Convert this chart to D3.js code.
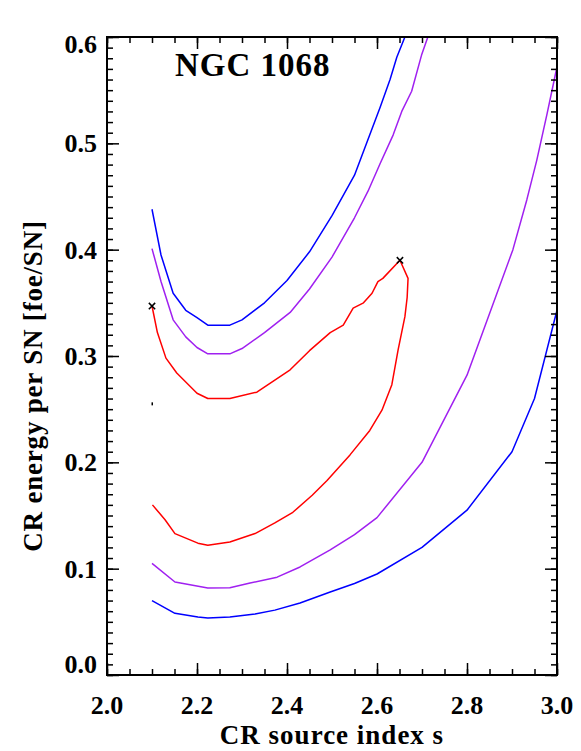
<!DOCTYPE html>
<html>
<head>
<meta charset="utf-8">
<script src="https://cdn.jsdelivr.net/npm/d3@7"></script>
<style>
  body { margin: 0; background: #fff; }
  text { font-family: "Liberation Serif", "DejaVu Serif", serif; font-weight: bold; fill: #000; }
</style>
</head>
<body>
<div id="chart"></div>
<script>
// contour data (s = CR source index, E = CR energy per SN)
const blueUpS  = [2.10, 2.12, 2.147, 2.175, 2.20, 2.224, 2.273, 2.30, 2.35, 2.40, 2.45, 2.50, 2.55, 2.607, 2.629, 2.644, 2.662, 2.67];
const blueUpE  = [0.438, 0.395, 0.359, 0.343, 0.336, 0.329, 0.329, 0.334, 0.35, 0.371, 0.398, 0.432, 0.47, 0.534, 0.56, 0.581, 0.60, 0.61];
const blueLoS  = [2.10, 2.151, 2.202, 2.224, 2.273, 2.329, 2.373, 2.429, 2.496, 2.55, 2.60, 2.70, 2.80, 2.90, 2.95, 3.00];
const blueLoE  = [0.0699, 0.058, 0.0545, 0.0536, 0.0545, 0.0574, 0.061, 0.0677, 0.078, 0.086, 0.095, 0.12, 0.155, 0.21, 0.26, 0.343];

const purpUpS  = [2.10, 2.12, 2.147, 2.175, 2.20, 2.224, 2.273, 2.30, 2.35, 2.407, 2.45, 2.50, 2.55, 2.58, 2.607, 2.636, 2.655, 2.677, 2.699, 2.713, 2.72];
const purpUpE  = [0.401, 0.37, 0.334, 0.318, 0.308, 0.302, 0.302, 0.307, 0.322, 0.341, 0.363, 0.393, 0.43, 0.455, 0.481, 0.508, 0.53, 0.549, 0.583, 0.60, 0.61];
const purpLoS  = [2.10, 2.151, 2.224, 2.273, 2.318, 2.378, 2.429, 2.496, 2.55, 2.60, 2.70, 2.80, 2.902, 2.933, 2.955, 2.978, 3.00];
const purpLoE  = [0.105, 0.0875, 0.0818, 0.082, 0.0865, 0.092, 0.1016, 0.1176, 0.132, 0.148, 0.2, 0.282, 0.40, 0.447, 0.484, 0.528, 0.572];

const redS = [2.10, 2.112, 2.131, 2.155, 2.20, 2.224, 2.273, 2.333, 2.407, 2.45, 2.496, 2.525, 2.547, 2.57, 2.589, 2.602, 2.613, 2.651,
              2.669, 2.667, 2.662, 2.647, 2.633, 2.611, 2.584, 2.54, 2.489, 2.456, 2.413, 2.373, 2.329, 2.273, 2.224, 2.202, 2.151, 2.129, 2.101];
const redE = [0.347, 0.322, 0.298, 0.284, 0.265, 0.260, 0.260, 0.266, 0.287, 0.305, 0.322, 0.329, 0.345, 0.35, 0.359, 0.370, 0.373, 0.390,
              0.373, 0.355, 0.337, 0.306, 0.273, 0.249, 0.23, 0.207, 0.183, 0.169, 0.153, 0.143, 0.133, 0.125, 0.122, 0.124, 0.133, 0.146, 0.16];

// best-fit / end markers
const crossS = [2.10, 2.651];
const crossE = [0.347, 0.390];
const dotS = [2.10];
const dotE = [0.255];

const xTicks = [2.0, 2.2, 2.4, 2.6, 2.8, 3.0];
const yTicks = [0.0, 0.1, 0.2, 0.3, 0.4, 0.5, 0.6];
const title = "NGC 1068";
const xLabel = "CR source index s";
const yLabel = "CR energy per SN [foe/SN]";

const W = 581, H = 751;
const margin = { top: 37, right: 24, bottom: 76, left: 107 };
const width = W - margin.left - margin.right,
  height = H - margin.top - margin.bottom;

const svg = d3.select("#chart").append("svg")
  .attr("width", W).attr("height", H);

const g = svg.append("g")
  .attr("transform", `translate(${margin.left},${margin.top})`);

const x = d3.scaleLinear().domain([2.0, 3.0]).range([0, width]);
const y = d3.scaleLinear().domain([0.0, 0.6]).range([height, 0]);

g.append("clipPath").attr("id", "clip")
  .append("rect").attr("width", width).attr("height", height);

// curves
const line = d3.line().x(d => x(d[0])).y(d => y(d[1]));
const curves = [
  [blueUpS, blueUpE, "#0000ff"],
  [blueLoS, blueLoE, "#0000ff"],
  [purpUpS, purpUpE, "#a020f0"],
  [purpLoS, purpLoE, "#a020f0"],
  [redS, redE, "#ff0000"]
];
const plot = g.append("g").attr("clip-path", "url(#clip)");
curves.forEach(c => {
  plot.append("path")
    .datum(c[0].map((s, i) => [s, c[1][i]]))
    .attr("fill", "none")
    .attr("stroke", c[2])
    .attr("stroke-width", 1.5)
    .attr("stroke-linejoin", "round")
    .attr("d", line);
});

// x markers
const sym = d3.symbol().type(d3.symbolX).size(28);
g.selectAll(".cross")
  .data(crossS.map((s, i) => [s, crossE[i]]))
  .enter().append("path")
  .attr("transform", d => `translate(${x(d[0])},${y(d[1])})`)
  .attr("d", sym)
  .attr("stroke", "#000").attr("stroke-width", 1.5).attr("fill", "none");

g.selectAll(".dot")
  .data(dotS.map((s, i) => [s, dotE[i]]))
  .enter().append("rect")
  .attr("x", d => x(d[0]) - 0.5).attr("y", d => y(d[1]) - 1.5)
  .attr("width", 1.5).attr("height", 3).attr("fill", "#000");

// axes: ticks inward on all four sides
const xMinor = d3.range(2.0, 3.0001, 0.05);
const yMinor = d3.range(0.0, 0.6001, 0.01);
const axisStyle = sel => {
  sel.select(".domain").remove();
  sel.selectAll("line").attr("stroke", "#000").attr("stroke-width", 1.5);
};
g.append("g").attr("transform", `translate(0,${height})`)
  .call(d3.axisBottom(x).tickValues(xMinor).tickSize(-6).tickFormat(""))
  .call(axisStyle);
g.append("g").attr("transform", `translate(0,${height})`)
  .call(d3.axisBottom(x).tickValues(xTicks).tickSize(-12).tickFormat(""))
  .call(axisStyle);
g.append("g")
  .call(d3.axisTop(x).tickValues(xMinor).tickSize(-6).tickFormat(""))
  .call(axisStyle);
g.append("g")
  .call(d3.axisTop(x).tickValues(xTicks).tickSize(-12).tickFormat(""))
  .call(axisStyle);
g.append("g")
  .call(d3.axisLeft(y).tickValues(yMinor).tickSize(-6).tickFormat(""))
  .call(axisStyle);
g.append("g")
  .call(d3.axisLeft(y).tickValues(yTicks).tickSize(-12).tickFormat(""))
  .call(axisStyle);
g.append("g").attr("transform", `translate(${width},0)`)
  .call(d3.axisRight(y).tickValues(yMinor).tickSize(-6).tickFormat(""))
  .call(axisStyle);
g.append("g").attr("transform", `translate(${width},0)`)
  .call(d3.axisRight(y).tickValues(yTicks).tickSize(-12).tickFormat(""))
  .call(axisStyle);

// frame
g.append("rect").attr("width", width).attr("height", height)
  .attr("fill", "none").attr("stroke", "#000").attr("stroke-width", 2);

// tick labels
g.selectAll(".xl").data(xTicks).enter().append("text")
  .attr("x", d => x(d)).attr("y", height + 39)
  .attr("text-anchor", "middle").style("font-size", "26px")
  .text(d => d.toFixed(1));

g.selectAll(".yl").data(yTicks).enter().append("text")
  .attr("x", -10)
  .attr("y", (d, i) => y(d) + (i === 0 ? -11 : i === yTicks.length - 1 ? 7 : 0))
  .attr("dy", "0.35em")
  .attr("text-anchor", "end").style("font-size", "26px")
  .text(d => d.toFixed(1));

// titles
svg.append("text").attr("x", 175).attr("y", 76)
  .style("font-size", "33px").style("letter-spacing", "1px").text(title);

svg.append("text").attr("x", margin.left + width / 2).attr("y", 744)
  .attr("text-anchor", "middle").style("font-size", "27px")
  .style("letter-spacing", "1px").text(xLabel);

svg.append("text")
  .attr("transform", `translate(42,${386}) rotate(-90)`)
  .attr("text-anchor", "middle").style("font-size", "27px")
  .style("letter-spacing", "0.8px").text(yLabel);
</script>
</body>
</html>
